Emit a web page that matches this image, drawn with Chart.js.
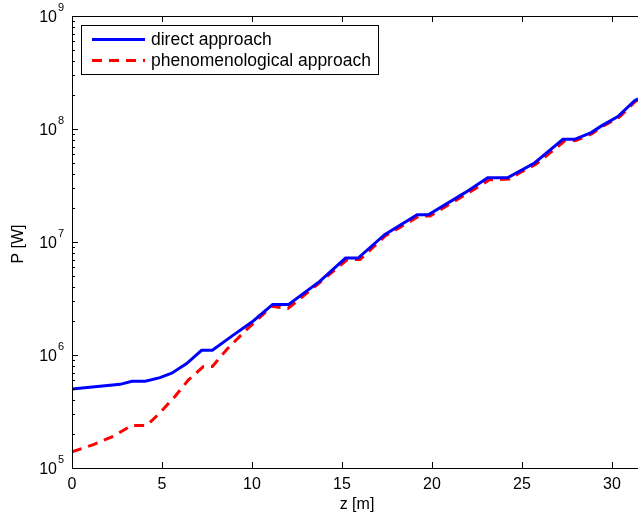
<!DOCTYPE html>
<html><head><meta charset="utf-8">
<script src="https://cdn.jsdelivr.net/npm/chart.js@4/dist/chart.umd.min.js"></script>
<style>html,body{margin:0;padding:0;background:#fff;}#wrap{width:638px;height:519px;}</style>
</head><body><div id="wrap"><canvas id="c" width="638" height="519"></canvas></div>
<script>
const zDirect = [0, 2.67, 3.33, 4.07, 4.89, 5.54, 6.37, 7.2, 7.8, 8.96, 10.07, 11.15, 12.04, 13.78, 15.2, 15.9, 17.37, 19.18, 19.8, 21.82, 23.1, 24.2, 24.96, 25.7, 27.28, 27.93, 28.85, 29.4, 30.33, 31.26, 31.45];
const pDirect = [5.0e5, 5.5e5, 5.85e5, 5.85e5, 6.3e5, 6.9e5, 8.4e5, 1.1e6, 1.1e6, 1.5e6, 2.0e6, 2.8e6, 2.8e6, 4.5e6, 7.2e6, 7.2e6, 1.16e7, 1.74e7, 1.74e7, 2.72e7, 3.7e7, 3.7e7, 4.3e7, 5.0e7, 8.1e7, 8.1e7, 9.3e7, 1.06e8, 1.29e8, 1.78e8, 1.85e8];
const zPheno = [0, 1.19, 2.3, 3.31, 4.15, 4.89, 5.72, 6.46, 7.3, 7.8, 8.6, 9.7, 11.1, 12.0, 13.78, 15.3, 16.0, 17.4, 19.3, 19.9, 21.9, 23.2, 24.3, 25.0, 25.8, 27.4, 28.0, 28.9, 29.4, 30.4, 31.3, 31.45];
const pPheno = [1.39e5, 1.61e5, 1.91e5, 2.38e5, 2.38e5, 3.08e5, 4.3e5, 6.0e5, 7.9e5, 7.9e5, 1.12e6, 1.68e6, 2.7e6, 2.58e6, 4.4e6, 7.0e6, 7.0e6, 1.13e7, 1.7e7, 1.7e7, 2.65e7, 3.55e7, 3.6e7, 4.2e7, 4.9e7, 7.9e7, 7.9e7, 9.1e7, 1.04e8, 1.27e8, 1.75e8, 1.82e8];
const xTicks = [0, 5, 10, 15, 20, 25, 30];
const yTickExps = [5, 6, 7, 8, 9];
const seriesNames = ['direct approach', 'phenomenological approach'];
const xTitle = 'z [m]';
const yTitle = 'P [W]';

const FONT = '"Liberation Sans", Arial, Helvetica, sans-serif';

const matlabAxes = {
  id: 'matlabAxes',
  afterDatasetsDraw(chart) {
    const ctx = chart.ctx;
    const a = chart.chartArea;
    const xs = chart.scales.x, ys = chart.scales.y;
    ctx.save();
    ctx.strokeStyle = '#000';
    ctx.lineWidth = 1;
    // axis lines
    ctx.beginPath();
    ctx.moveTo(Math.round(a.left) + 0.5, a.top);
    ctx.lineTo(Math.round(a.left) + 0.5, a.bottom);
    ctx.moveTo(a.left, Math.round(a.bottom) + 0.5);
    ctx.lineTo(a.right, Math.round(a.bottom) + 0.5);
    ctx.moveTo(a.left, Math.round(a.top) + 0.5);
    ctx.lineTo(a.right, Math.round(a.top) + 0.5);
    ctx.stroke();
    // x ticks
    ctx.beginPath();
    xTicks.forEach(v => {
      const px = Math.round(xs.getPixelForValue(v)) + 0.5;
      ctx.moveTo(px, a.bottom); ctx.lineTo(px, a.bottom - 6);
      ctx.moveTo(px, a.top); ctx.lineTo(px, a.top + 6);
    });
    // y ticks major + minor
    yTickExps.forEach((e, i) => {
      const py = Math.round(ys.getPixelForValue(Math.pow(10, e))) + 0.5;
      ctx.moveTo(a.left, py); ctx.lineTo(a.left + 6, py);
      if (i < yTickExps.length - 1) {
        for (let m = 2; m <= 9; m++) {
          const pm = Math.round(ys.getPixelForValue(m * Math.pow(10, e))) + 0.5;
          ctx.moveTo(a.left, pm); ctx.lineTo(a.left + 3, pm);
        }
      }
    });
    ctx.stroke();
    // x tick labels
    ctx.fillStyle = '#000';
    ctx.font = '16px ' + FONT;
    ctx.textAlign = 'center';
    ctx.textBaseline = 'middle';
    xTicks.forEach(v => {
      ctx.fillText(String(v), xs.getPixelForValue(v), a.bottom + 17);
    });
    // y tick labels with superscript
    yTickExps.forEach(e => {
      const py = ys.getPixelForValue(Math.pow(10, e));
      ctx.font = '16px ' + FONT;
      ctx.textAlign = 'right';
      ctx.textBaseline = 'middle';
      ctx.fillText('10', a.left - 15, py + 2);
      ctx.font = '11px ' + FONT;
      ctx.textAlign = 'left';
      ctx.fillText(String(e), a.left - 14, py - 8);
    });
    // axis titles
    ctx.font = '16px ' + FONT;
    ctx.textAlign = 'center';
    ctx.textBaseline = 'middle';
    ctx.fillText(xTitle, (a.left + a.right) / 2 + 2, a.bottom + 37);
    ctx.save();
    ctx.translate(19, (a.top + a.bottom) / 2 + 2);
    ctx.rotate(-Math.PI / 2);
    ctx.fillText(yTitle, 0, 0);
    ctx.restore();
    // legend
    const lx = 81.5, ly = 25.5, lw = 297, lh = 49;
    ctx.fillStyle = '#fff';
    ctx.fillRect(lx, ly, lw, lh);
    ctx.strokeRect(lx, ly, lw, lh);
    const ds = chart.data.datasets;
    const rows = [39.5, 60.5];
    ds.forEach((d, i) => {
      ctx.save();
      ctx.strokeStyle = d.borderColor;
      ctx.lineWidth = 3;
      ctx.setLineDash(d.borderDash || []);
      ctx.beginPath();
      ctx.moveTo(92, rows[i]); ctx.lineTo(145, rows[i]);
      ctx.stroke();
      ctx.restore();
      ctx.fillStyle = '#000';
      ctx.font = '17.5px ' + FONT;
      ctx.textAlign = 'left';
      ctx.textBaseline = 'middle';
      ctx.fillText(seriesNames[i], 151, rows[i] + 1);
    });
    ctx.restore();
  }
};

new Chart(document.getElementById('c'), {
  type: 'line',
  data: {
    datasets: [
      { label: seriesNames[0], data: zDirect.map((z, i) => ({ x: z, y: pDirect[i] })),
        borderColor: '#0000ff', borderWidth: 3, pointRadius: 0, tension: 0, fill: false },
      { label: seriesNames[1], data: zPheno.map((z, i) => ({ x: z, y: pPheno[i] })),
        borderColor: '#ff0000', borderWidth: 3, borderDash: [10, 7], pointRadius: 0, tension: 0, fill: false }
    ]
  },
  options: {
    responsive: false,
    devicePixelRatio: 1,
    animation: false,
    layout: { padding: { top: 16, right: 0, left: 0, bottom: 0 } },
    plugins: { legend: { display: false }, tooltip: { enabled: false } },
    scales: {
      x: { type: 'linear', min: 0, max: 31.45,
        ticks: { display: false }, grid: { display: false }, border: { display: false },
        afterFit: s => { s.height = 51; } },
      y: { type: 'logarithmic', min: 1e5, max: 1e9,
        ticks: { display: false }, grid: { display: false }, border: { display: false },
        afterFit: s => { s.width = 72; } }
    }
  },
  plugins: [matlabAxes]
});
</script>
</body></html>
